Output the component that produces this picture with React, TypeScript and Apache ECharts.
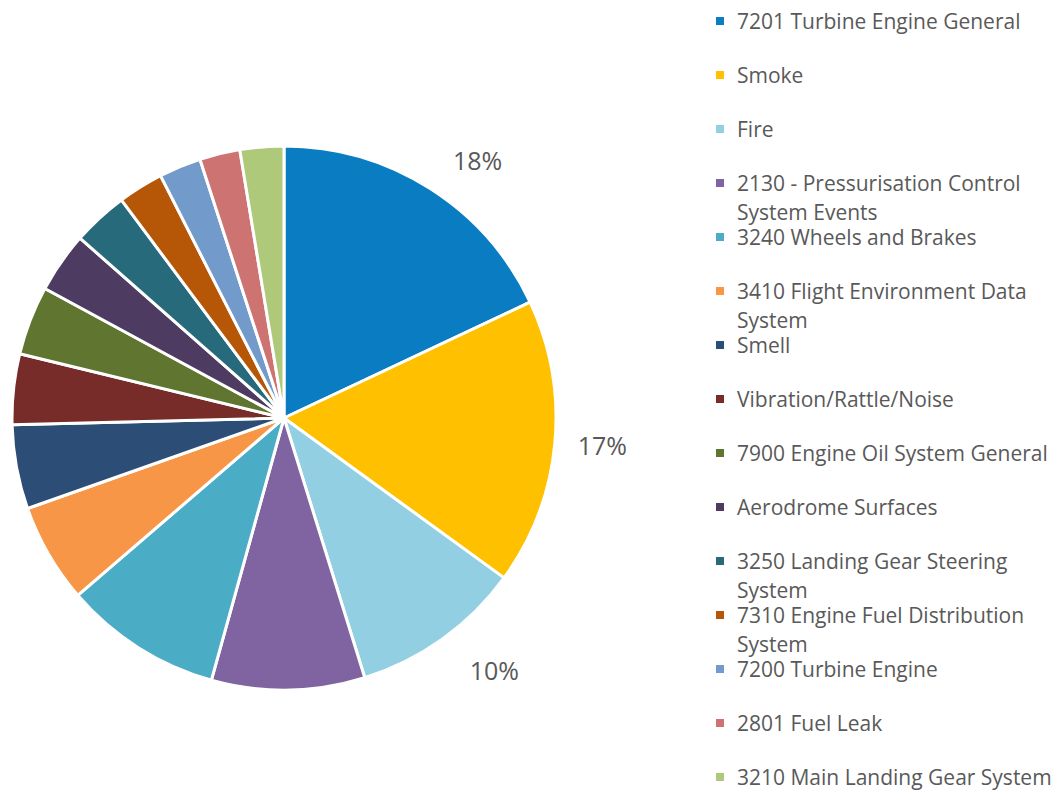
import React, { useEffect, useRef } from "react";
import * as echarts from "echarts";

const categories = [
  "7201 Turbine Engine General",
  "Smoke",
  "Fire",
  "2130 - Pressurisation Control System Events",
  "3240 Wheels and Brakes",
  "3410 Flight Environment Data System",
  "Smell",
  "Vibration/Rattle/Noise",
  "7900 Engine Oil System General",
  "Aerodrome Surfaces",
  "3250 Landing Gear Steering System",
  "7310 Engine Fuel Distribution System",
  "7200 Turbine Engine",
  "2801 Fuel Leak",
  "3210 Main Landing Gear System",
];

const values = [18, 17, 10.2, 9.1, 9.4, 5.9, 5.0, 4.2, 4.1, 3.6, 3.3, 2.7, 2.5, 2.4, 2.6];

// legend display text: first line and continuation line (as wrapped in the reference)
const legendFirstLines = [
  "7201 Turbine Engine General",
  "Smoke",
  "Fire",
  "2130 - Pressurisation Control",
  "3240 Wheels and Brakes",
  "3410 Flight Environment Data",
  "Smell",
  "Vibration/Rattle/Noise",
  "7900 Engine Oil System General",
  "Aerodrome Surfaces",
  "3250 Landing Gear Steering",
  "7310 Engine Fuel Distribution",
  "7200 Turbine Engine",
  "2801 Fuel Leak",
  "3210 Main Landing Gear System",
];
const legendSecondLines = [
  "", "", "", "System Events", "", "System", "", "", "", "",
  "System", "System", "", "", "",
];

const colors = [
  "#0A7DC2", "#FFC000", "#92CFE2", "#8064A2", "#4BACC6", "#F79646", "#2C4D75",
  "#772C2A", "#5F7530", "#4D3B62", "#276A7C", "#B65708", "#729ACA", "#CD7371", "#AFC97A",
];

const labelShownCount = 3;
// distance of the shown percentage labels beyond the rim (style, not data)
const labelDistances = [34, 18, 38];

const FONT = "Open Sans";

export default function App() {
  const ref = useRef<HTMLDivElement>(null);
  useEffect(() => {
    if (!ref.current) return;
    const chart = echarts.init(ref.current, undefined, { renderer: "svg" });
    const baseLegend = {
      orient: "vertical",
      left: 714,
      padding: 0,
      itemWidth: 10,
      itemHeight: 10,
      icon: "rect",
      selectedMode: false,
      textStyle: {
        fontFamily: FONT,
        fontSize: 21,
        lineHeight: 22,
        color: "#595959",
        padding: [0, 0, 0, 7],
      },
    };
    const legends: any[] = [];
    categories.forEach((name, i) => {
      legends.push({
        ...baseLegend,
        top: 21 + i * 54 - 11,
        formatter: () => legendFirstLines[i],
        data: [name],
      });
      if (legendSecondLines[i]) {
        legends.push({
          ...baseLegend,
          top: 21 + i * 54 + 29 - 11,
          formatter: () => legendSecondLines[i],
          data: [{ name, itemStyle: { opacity: 0 } }],
        });
      }
    });
    chart.setOption({
      animation: false,
      color: colors,
      legend: legends,
      series: [
        {
          type: "pie",
          center: [284, 418],
          radius: 272,
          startAngle: 90,
          clockwise: true,
          avoidLabelOverlap: false,
          itemStyle: { borderColor: "#fff", borderWidth: 3 },
          label: {
            position: "outside",
            fontFamily: FONT,
            fontSize: 25,
            color: "#595959",
            formatter: (p: any) => Math.round(p.percent) + "%",
          },
          labelLine: { show: false, length2: 0 },
          emphasis: { disabled: true },
          data: categories.map((name, i) => ({
            name,
            value: values[i],
            label: { show: i < labelShownCount },
            labelLine: { length: labelDistances[i] ?? 20 },
          })),
        },
      ],
    });
    return () => chart.dispose();
  }, []);
  return (
    <div
      ref={ref}
      style={{ position: "absolute", left: 0, top: 0, width: 1051, height: 790 }}
    />
  );
}
